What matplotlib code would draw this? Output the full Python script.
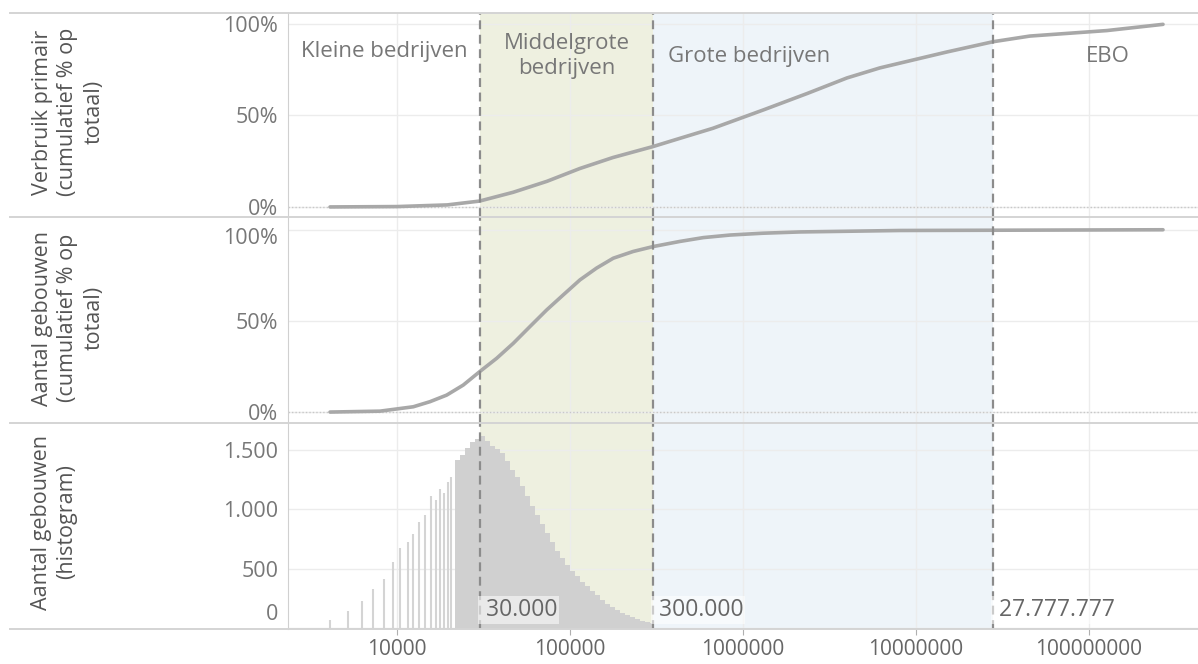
import matplotlib
matplotlib.use("Agg")
import matplotlib.pyplot as plt
import matplotlib.transforms as mtransforms
from matplotlib.lines import Line2D

plt.rcParams["font.family"] = ["Open Sans", "DejaVu Sans"]

# boundaries between company classes (kWh)
bounds = [30000, 300000, 27777777]
bound_labels = ["30.000", "300.000", "27.777.777"]

# cumulative share of primary consumption
cons_x = [4100, 10000, 19500, 30000, 46900, 73600, 114000, 177000, 302000,
          432000, 671000, 1310000, 2350000, 3990000, 6190000, 9610000,
          15100000, 27900000, 45600000, 127000000, 268000000]
cons_y = [0, 0.2, 1.1, 3.2, 8, 14, 21, 27, 33, 37.5, 43, 53, 62, 70.5, 76,
          80.3, 84.7, 90.3, 93.4, 96.4, 99.8]

# cumulative share of number of buildings
cnt_x = [4100, 7980, 12420, 15520, 19370, 24150, 30000, 37700, 47000, 58700,
         73300, 91500, 114200, 142600, 178000, 232000, 303000, 432000, 590000,
         841000, 1300000, 2130000, 8100000, 268000000]
cnt_y = [0, 0.5, 2.9, 5.7, 9.3, 14.8, 22.1, 29.5, 37.7, 46.9, 56, 64.3, 72.5,
         79, 84.4, 88.1, 90.8, 93.6, 95.7, 97.1, 98.1, 98.8, 99.6, 100]

# histogram: isolated spikes at round values
spike_x = [4100, 5200, 6300, 7300, 8400, 9500, 10400, 11600, 12400, 13400,
           14500, 15700, 16800, 17700, 18700, 19600, 20500]
spike_n = [69, 145, 228, 328, 411, 556, 672, 722, 792, 894, 950, 1111, 1075,
           1172, 1133, 1230, 1272]

# histogram: dense part (bin edges and counts)
hist_edges = [21600, 23100, 24700, 26400, 28200, 30200, 32300, 34500, 36900,
              39400, 42100, 45000, 48100, 51400, 54900, 58700, 62800, 67100,
              71700, 76600, 81900, 87500, 93600, 100000, 106900, 114200,
              122100, 130500, 139500, 149100, 159300, 170300, 182000, 194500,
              207900, 222200, 237500, 253900, 271300, 290000, 300000]
hist_n = [1417, 1458, 1517, 1567, 1590, 1617, 1575, 1533, 1508, 1475, 1408,
          1333, 1267, 1192, 1108, 1025, 950, 875, 800, 725, 650, 590, 530,
          480, 435, 390, 350, 308, 275, 240, 205, 175, 150, 130, 108, 92, 75,
          58, 50, 42]

regions = ["Kleine bedrijven", "Middelgrote\nbedrijven", "Grote bedrijven", "EBO"]
region_x = [8400, 96200, 368000, 129000000]
region_y = [84.7, 82.5, 82, 82]
region_ha = ["center", "center", "left", "center"]

XLIM = (2344, 4.27e8)
GREEN = "#eef0e0"
BLUE = "#eef4f9"
GRID = "#ececec"
LINE = "#a8a8a8"

W, H = 1198, 664
fig = plt.figure(figsize=(W / 100, H / 100), dpi=100)


def add_panel(top, bottom):
    return fig.add_axes([288 / W, (H - bottom) / H, 1 - 288 / W, (bottom - top) / H])


def shift_label(label, dy_px):
    label.set_transform(label.get_transform()
                        + mtransforms.ScaledTranslation(0, dy_px / 100, fig.dpi_scale_trans))


ax_top = add_panel(13, 217)
ax_mid = add_panel(217, 423)
ax_bot = add_panel(423, 629)

for ax in (ax_top, ax_mid, ax_bot):
    ax.set_xscale("log")
    ax.set_xlim(*XLIM)
    ax.axvspan(bounds[0], bounds[1], color=GREEN, zorder=0, lw=0)
    ax.axvspan(bounds[1], bounds[2], color=BLUE, zorder=0, lw=0)
    for b in bounds:
        ax.axvline(b, color="#8c8c8c", lw=1.6, ls=(0, (4, 2.5)), zorder=5)
    for s in ax.spines.values():
        s.set_visible(False)
    ax.spines["left"].set_visible(True)
    ax.spines["left"].set_color("#d0d0d0")
    ax.set_xticks([1e4, 1e5, 1e6, 1e7, 1e8])
    ax.xaxis.set_minor_locator(matplotlib.ticker.NullLocator())
    ax.grid(True, color=GRID, lw=1, zorder=1)
    ax.set_axisbelow(True)
    ax.tick_params(axis="y", length=0, labelsize=15.5, labelcolor="#777777", pad=7)
    ax.tick_params(axis="x", length=0, labelbottom=False)
    ax.patch.set_alpha(0)

# top: cumulative consumption
ax_top.plot(cons_x, cons_y, color=LINE, lw=2.6, zorder=4,
            solid_capstyle="round", solid_joinstyle="round")
ax_top.set_ylim(-5.5, 106)
ax_top.set_yticks([0, 50, 100])
ax_top.set_yticklabels(["0%", "50%", "100%"])
ax_top.axhline(0, color="#c8c8c8", lw=1, ls=(0, (1, 1.5)), zorder=2)
for txt, x, y, ha in zip(regions, region_x, region_y, region_ha):
    ax_top.text(x, y, txt, ha=ha, va="center", fontsize=16,
                color="#777777", linespacing=1.3, zorder=6)

# middle: cumulative count
ax_mid.plot(cnt_x, cnt_y, color=LINE, lw=2.6, zorder=4,
            solid_capstyle="round", solid_joinstyle="round")
ax_mid.set_ylim(-6, 107)
ax_mid.set_yticks([0, 50, 100])
ax_mid.set_yticklabels(["0%", "50%", "100%"])
ax_mid.axhline(0, color="#c8c8c8", lw=1, ls=(0, (1, 1.5)), zorder=2)
shift_label(ax_mid.get_yticklabels()[2], -6)

# bottom: histogram
ax_bot.vlines(spike_x, 0, spike_n, color="#d4d4d4", lw=1.5, zorder=3)
ax_bot.stairs(hist_n, hist_edges, fill=True, color="#d0d0d0", zorder=3)
ax_bot.set_ylim(-8, 1725)
ax_bot.set_yticks([0, 500, 1000, 1500])
ax_bot.set_yticklabels(["0", "500", "1.000", "1.500"])
shift_label(ax_bot.get_yticklabels()[0], 16)
ax_bot.tick_params(axis="x", length=4, color="#b0b0b0", labelbottom=True,
                   labelsize=15, labelcolor="#666666", pad=3)
ax_bot.xaxis.set_major_formatter(matplotlib.ticker.FuncFormatter(lambda v, p: f"{v:.0f}"))
for b, t in zip(bounds, bound_labels):
    ax_bot.text(b, 150, " " + t, ha="left", va="center", fontsize=16.5,
                color="#666666", zorder=6,
                bbox=dict(boxstyle="square,pad=0.08", fc="white", ec="none", alpha=0.55))

# panel separators across full width
for y in (13, 217, 423, 629):
    fig.add_artist(Line2D([10 / W, 1], [(H - y) / H] * 2, transform=fig.transFigure,
                          color="#d4d4d4", lw=1.4))

# axis titles
title_kw = dict(rotation=90, ha="center", va="center", fontsize=15.5,
                color="#555555", multialignment="center", linespacing=1.3)
fig.text(68 / W, (H - 112) / H, "Verbruik primair\n(cumulatief % op\ntotaal)", **title_kw)
fig.text(68 / W, (H - 318) / H, "Aantal gebouwen\n(cumulatief % op\ntotaal)", **title_kw)
fig.text(54 / W, (H - 522) / H, "Aantal gebouwen\n(histogram)", **title_kw)

fig.savefig("out.png", dpi=100, facecolor="white")
